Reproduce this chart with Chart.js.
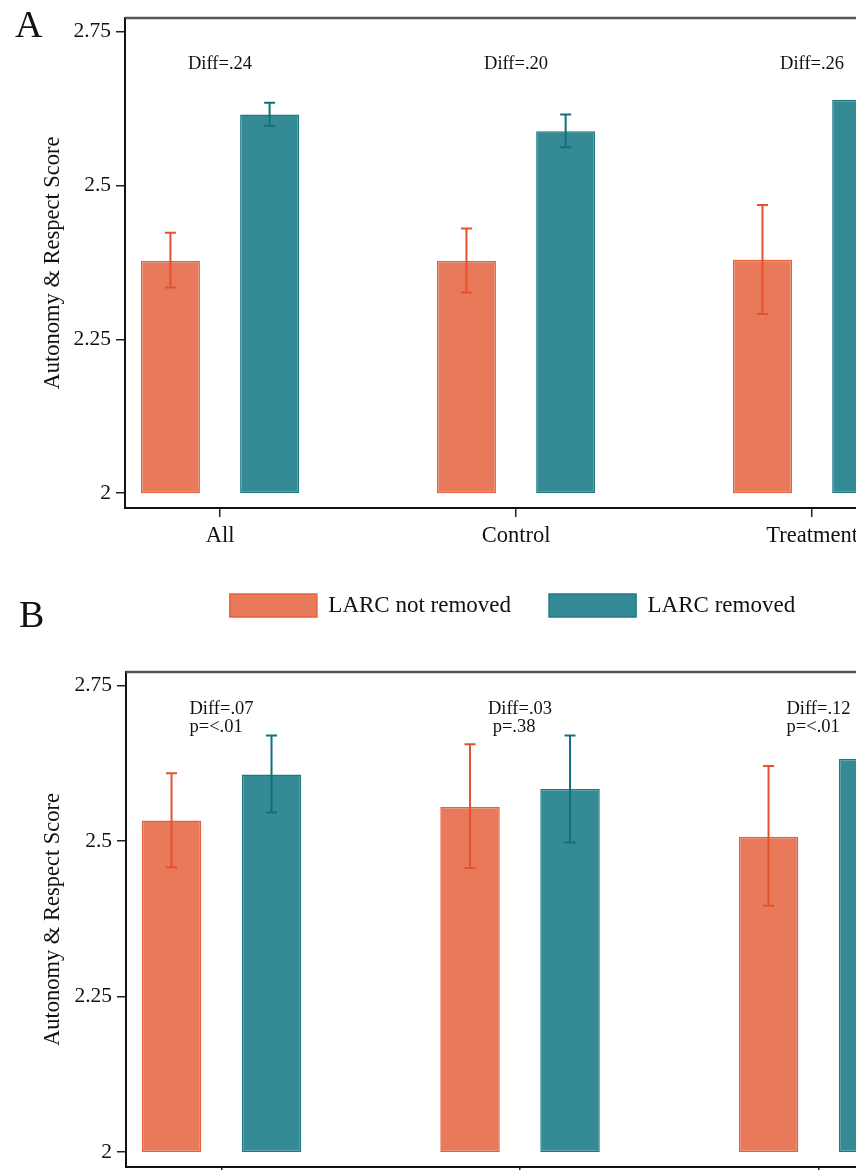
<!DOCTYPE html>
<html>
<head>
<meta charset="utf-8">
<script src="https://cdn.jsdelivr.net/npm/chart.js@4.4.0/dist/chart.umd.min.js"></script>
<style>
  html, body { margin: 0; padding: 0; background: #fff; overflow: hidden; }
  #page { position: relative; width: 856px; height: 1170px; overflow: hidden; }
  #panelA { position: absolute; left: 0; top: 0; }
  #panelB { position: absolute; left: 0; top: 600px; }
</style>
</head>
<body>
<div id="page">
  <canvas id="panelA" width="960" height="630"></canvas>
  <canvas id="panelB" width="960" height="620"></canvas>
</div>
<script>
// Shared axis values
const categories = ['All', 'Control', 'Treatment'];
const seriesNames = ['LARC not removed', 'LARC removed'];
const yTicks = [2, 2.25, 2.5, 2.75];
const yTickLabels = ['2', '2.25', '2.5', '2.75'];

// Panel A: means and 95% CI
const notRemovedA = [2.377, 2.377, 2.379];
const notRemovedLowA = [2.334, 2.326, 2.291];
const notRemovedHighA = [2.423, 2.430, 2.468];
const removedA = [2.615, 2.588, 2.639];
const removedLowA = [2.597, 2.562, 2.614];
const removedHighA = [2.634, 2.615, 2.664];
const diffA = ['Diff=.24', 'Diff=.20', 'Diff=.26'];

// Panel B: means and 95% CI
const notRemovedB = [2.533, 2.555, 2.507];
const notRemovedLowB = [2.458, 2.457, 2.396];
const notRemovedHighB = [2.609, 2.656, 2.621];
const removedB = [2.607, 2.584, 2.632];
const removedLowB = [2.546, 2.498, 2.570];
const removedHighB = [2.670, 2.670, 2.694];
const diffB = ['Diff=.07', 'Diff=.03', 'Diff=.12'];
const pValB = ['p=<.01', ' p=.38', 'p=<.01'];

const SERIF = '"Liberation Serif", "Times New Roman", serif';
const ORANGE = '#e8795b';
const ORANGE_EDGE = '#e4633f';
const ORANGE_ERR = '#e4522d';
const TEAL = '#348b95';
const TEAL_EDGE = '#1f7982';
const TEAL_ERR = '#11707a';
const INK = '#111';

// error bars drawn on top of the bars
const errorBars = {
    id: 'errorBars',
    afterDatasetsDraw(chart) {
        const ctx = chart.ctx;
        const yScale = chart.scales.y;
        chart.data.datasets.forEach((ds, d) => {
            const meta = chart.getDatasetMeta(d);
            meta.data.forEach((bar, i) => {
                const top = yScale.getPixelForValue(ds.errHigh[i]);
                const bot = yScale.getPixelForValue(ds.errLow[i]);
                ctx.save();
                ctx.strokeStyle = ds.errColor;
                ctx.lineWidth = 2;
                ctx.beginPath();
                ctx.moveTo(bar.x, top);
                ctx.lineTo(bar.x, bot);
                ctx.moveTo(bar.x - 5.5, top);
                ctx.lineTo(bar.x + 5.5, top);
                ctx.moveTo(bar.x - 5.5, bot);
                ctx.lineTo(bar.x + 5.5, bot);
                ctx.stroke();
                ctx.restore();
            });
        });
    }
};

// top border of the plot region
const frame = {
    id: 'frame',
    beforeDatasetsDraw(chart) {
        const {ctx, chartArea} = chart;
        ctx.save();
        ctx.strokeStyle = '#555';
        ctx.lineWidth = 2.5;
        ctx.beginPath();
        ctx.moveTo(chartArea.left, chartArea.top);
        ctx.lineTo(chartArea.right + 10, chartArea.top);
        ctx.stroke();
        ctx.restore();
    }
};

// "Diff=" / "p=" notes above each group
const notes = {
    id: 'notes',
    afterDraw(chart, args, opts) {
        const ctx = chart.ctx;
        const xScale = chart.scales.x;
        ctx.save();
        ctx.font = '18.5px ' + SERIF;
        ctx.fillStyle = INK;
        ctx.textBaseline = 'middle';
        ctx.textAlign = 'left';
        categories.forEach((c, i) => {
            const cx = xScale.getPixelForValue(i);
            const left = cx - ctx.measureText(opts.rows[0][i]).width / 2;
            opts.rows.forEach((row, r) => {
                ctx.fillText(row[i], left, chart.chartArea.top + opts.offsets[r]);
            });
        });
        ctx.restore();
    }
};

const panelLabel = {
    id: 'panelLabel',
    afterDraw(chart, args, opts) {
        const ctx = chart.ctx;
        ctx.save();
        ctx.font = '38px ' + SERIF;
        ctx.fillStyle = INK;
        ctx.textBaseline = 'alphabetic';
        ctx.fillText(opts.text, opts.x, opts.y);
        ctx.restore();
    }
};

function barSet(name, values, low, high, fill, edge, err) {
    return {
        label: name,
        data: categories.map((c, i) => ({x: i, y: [2, values[i]]})),
        errLow: low,
        errHigh: high,
        errColor: err,
        backgroundColor: fill,
        borderColor: edge,
        borderWidth: 1.5,
        borderSkipped: false,
        categoryPercentage: 0.67,
        barPercentage: 0.595
    };
}

function makePanel(canvasId, p) {
    return new Chart(document.getElementById(canvasId), {
        type: 'bar',
        data: {
            datasets: [
                barSet(seriesNames[0], p.notRemoved, p.notRemovedLow, p.notRemovedHigh, ORANGE, ORANGE_EDGE, ORANGE_ERR),
                barSet(seriesNames[1], p.removed, p.removedLow, p.removedHigh, TEAL, TEAL_EDGE, TEAL_ERR)
            ]
        },
        options: {
            responsive: false,
            animation: false,
            layout: { padding: p.padding },
            plugins: {
                tooltip: { enabled: false },
                legend: {
                    display: p.legend,
                    position: 'bottom',
                    fullSize: false,
                    labels: {
                        boxWidth: 87,
                        boxHeight: 23,
                        padding: 38,
                        color: INK,
                        font: { family: SERIF, size: 23 }
                    }
                },
                notes: { rows: p.notes, offsets: p.noteOffsets },
                panelLabel: p.label
            },
            scales: {
                x: {
                    type: 'linear',
                    min: p.xMin,
                    max: p.xMax,
                    offset: false,
                    afterBuildTicks: s => { s.ticks = categories.map((c, i) => ({value: i})); },
                    afterFit: s => { s.height = p.xAxisHeight; },
                    ticks: {
                        callback: (v, i) => categories[i],
                        autoSkip: false,
                        maxRotation: 0,
                        padding: 6,
                        color: INK,
                        font: { family: SERIF, size: 22.5 }
                    },
                    grid: { drawOnChartArea: false, offset: false, tickLength: 9, color: '#222', lineWidth: 1.5 },
                    border: { color: INK, width: 2 }
                },
                y: {
                    min: 1.976,
                    max: 2.772,
                    afterBuildTicks: s => { s.ticks = yTicks.map(v => ({value: v})); },
                    afterFit: s => { s.width = p.yAxisWidth; },
                    ticks: {
                        callback: (v, i) => yTickLabels[i],
                        padding: 5,
                        color: INK,
                        font: { family: SERIF, size: 21.5 }
                    },
                    grid: { drawOnChartArea: false, tickLength: 9, color: '#222', lineWidth: 1.5 },
                    border: { color: INK, width: 2 },
                    title: {
                        display: true,
                        text: 'Autonomy & Respect Score',
                        color: INK,
                        font: { family: SERIF, size: 22.5 },
                        padding: { top: 40, bottom: 0 }
                    }
                }
            }
        },
        plugins: [frame, errorBars, notes, panelLabel]
    });
}

makePanel('panelA', {
    notRemoved: notRemovedA, notRemovedLow: notRemovedLowA, notRemovedHigh: notRemovedHighA,
    removed: removedA, removedLow: removedLowA, removedHigh: removedHighA,
    notes: [diffA], noteOffsets: [46],
    label: { text: 'A', x: 15, y: 37 },
    legend: true,
    padding: { top: 16, left: 0, right: 60, bottom: 3 },
    xMin: -0.321, xMax: 2.297,
    xAxisHeight: 48, yAxisWidth: 125
});

makePanel('panelB', {
    notRemoved: notRemovedB, notRemovedLow: notRemovedLowB, notRemovedHigh: notRemovedHighB,
    removed: removedB, removedLow: removedLowB, removedHigh: removedHighB,
    notes: [diffB, pValB], noteOffsets: [37, 55],
    label: { text: 'B', x: 19, y: 27 },
    legend: false,
    padding: { top: 72, left: 0, right: 54, bottom: 3 },
    xMin: -0.32, xMax: 2.293,
    xAxisHeight: 50, yAxisWidth: 126
});
</script>
</body>
</html>
